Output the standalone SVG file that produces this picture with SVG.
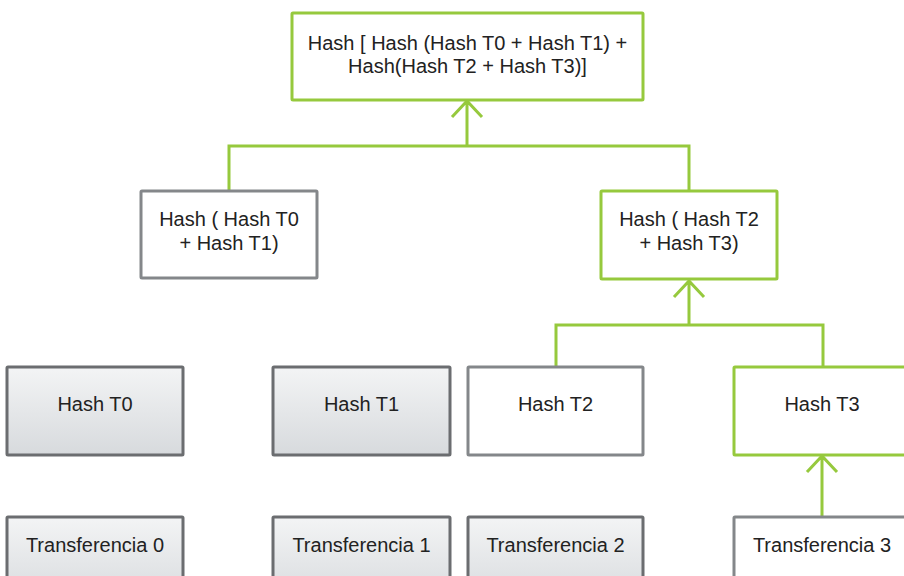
<svg xmlns="http://www.w3.org/2000/svg" width="904" height="576" viewBox="0 0 904 576">
<defs>
<linearGradient id="g" x1="0" y1="0" x2="0" y2="1">
<stop offset="0" stop-color="#f3f4f5"/>
<stop offset="1" stop-color="#d7dadd"/>
</linearGradient>
<style>
.t{font-family:"Liberation Sans",Arial,sans-serif;font-size:20px;fill:#222;text-anchor:middle}
.green{fill:#fff;stroke:#96c93d;stroke-width:3}
.gray{fill:#fff;stroke:#84878a;stroke-width:3}
.dark{fill:url(#g);stroke:#6b6d70;stroke-width:3}
.c{fill:none;stroke:#96c93d;stroke-width:3}
</style>
</defs>
<rect width="904" height="576" fill="#fff"/>
<g id="connectors">
<path class="c" d="M467 146V101M452 117L467 101L482 117"/>
<path class="c" d="M229 191V146H689V191"/>
<path class="c" d="M689 325V281M674 297L689 281L704 297"/>
<path class="c" d="M556 367V325H823V367"/>
<path class="c" d="M822 517V456M807 472L822 456L837 472"/>
</g>
<g id="root"><rect class="green" x="292" y="13" width="351" height="87" rx="1"/><text class="t" x="467.5" y="50">Hash [ Hash (Hash T0 + Hash T1) +</text><text class="t" x="467.5" y="73">Hash(Hash T2 + Hash T3)]</text></g>
<g id="h01"><rect class="gray" x="141" y="191" width="176" height="87" rx="1"/><text class="t" x="229" y="226">Hash ( Hash T0</text><text class="t" x="229" y="250">+ Hash T1)</text></g>
<g id="h23"><rect class="green" x="601" y="191" width="176" height="88" rx="1"/><text class="t" x="689" y="226">Hash ( Hash T2</text><text class="t" x="689" y="250">+ Hash T3)</text></g>
<g id="ht0"><rect class="dark" x="7" y="367" width="176" height="88" rx="1"/><text class="t" x="95" y="411">Hash T0</text></g>
<g id="ht1"><rect class="dark" x="273" y="367" width="177" height="88" rx="1"/><text class="t" x="361.5" y="411">Hash T1</text></g>
<g id="ht2"><rect class="gray" x="468" y="367" width="175" height="88" rx="1"/><text class="t" x="555.5" y="411">Hash T2</text></g>
<g id="ht3"><rect class="green" x="734" y="367" width="176" height="88" rx="1"/><text class="t" x="822" y="411">Hash T3</text></g>
<g id="tr0"><rect class="dark" x="7" y="517" width="176" height="88" rx="1"/><text class="t" x="95" y="552">Transferencia 0</text></g>
<g id="tr1"><rect class="dark" x="273" y="517" width="177" height="88" rx="1"/><text class="t" x="361.5" y="552">Transferencia 1</text></g>
<g id="tr2"><rect class="dark" x="468" y="517" width="175" height="88" rx="1"/><text class="t" x="555.5" y="552">Transferencia 2</text></g>
<g id="tr3"><rect class="gray" x="734" y="517" width="176" height="88" rx="1"/><text class="t" x="822" y="552">Transferencia 3</text></g>
</svg>
